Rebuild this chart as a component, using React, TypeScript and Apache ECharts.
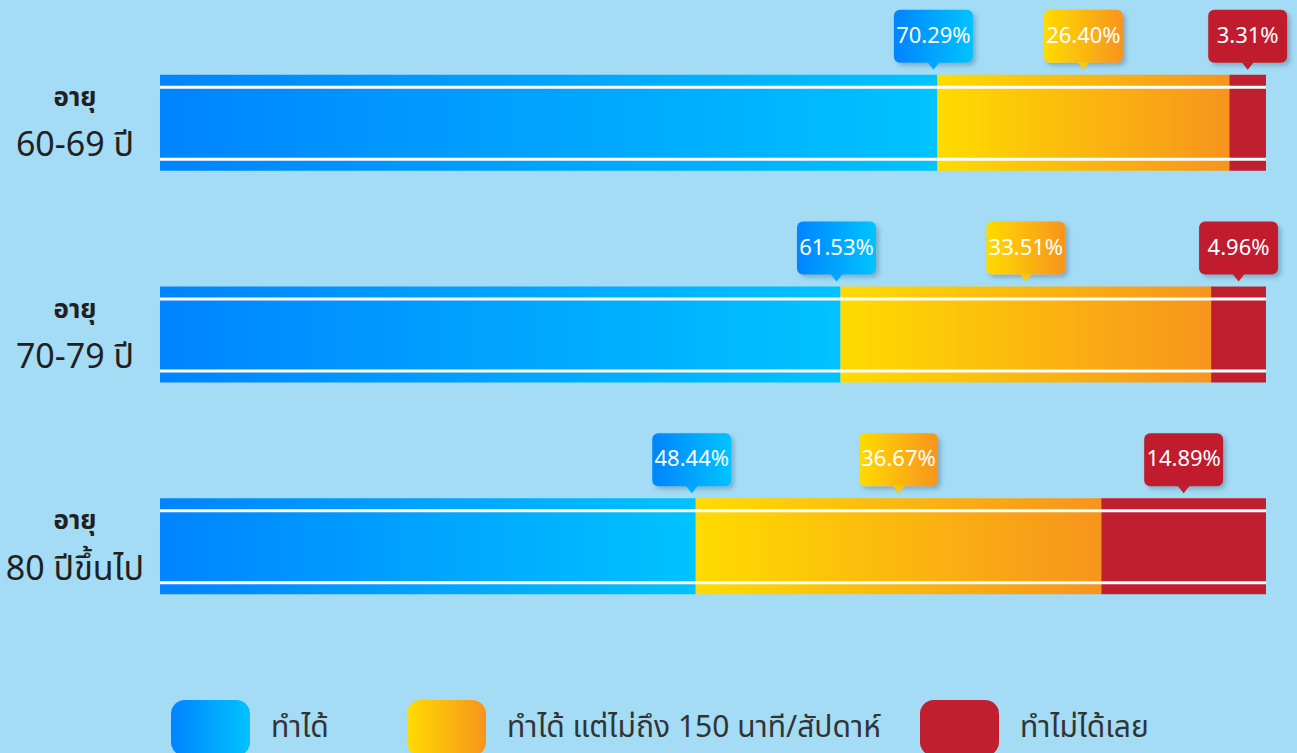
import React, { useEffect, useRef } from "react";
import * as echarts from "echarts";

const categories = ["60-69 ปี", "70-79 ปี", "80 ปีขึ้นไป"];
const seriesNames = ["ทำได้", "ทำได้ แต่ไม่ถึง 150 นาที/สัปดาห์", "ทำไม่ได้เลย"];
const canDo = [70.29, 61.53, 48.44];
const notEnough = [26.4, 33.51, 36.67];
const cannot = [3.31, 4.96, 14.89];

const W = 1297;
const H = 753;
const BG = "#a3dcf4";
const FONT = 'Tahoma, "Noto Sans Thai", "Loma", "Garuda", "Noto Sans", sans-serif';

const gradBlue = () =>
  new echarts.graphic.LinearGradient(0, 0, 1, 0, [
    { offset: 0, color: "#0084ff" },
    { offset: 1, color: "#00c3ff" },
  ]);
const gradOrange = () =>
  new echarts.graphic.LinearGradient(0, 0, 1, 0, [
    { offset: 0, color: "#ffdb00" },
    { offset: 1, color: "#f7941d" },
  ]);
const RED = "#c01f2f";
const pointerColors = ["#00a9ff", "#fcc70c", RED];

export default function App() {
  const ref = useRef<HTMLDivElement>(null);
  useEffect(() => {
    if (!ref.current) return;
    const chart = echarts.init(ref.current, undefined, { renderer: "svg" });
    const all = [canDo, notEnough, cannot];
    const fills = [gradBlue, gradOrange, () => RED];

    const calloutData: number[][] = [];
    categories.forEach((_, i) => {
      let start = 0;
      all.forEach((arr, k) => {
        const end = start + arr[i];
        calloutData.push([i, start, end, arr[i], k]);
        start = end;
      });
    });

    const barHalf = 48;

    const option: any = {
      animation: false,
      backgroundColor: BG,
      grid: { left: 160, right: 31, top: 17, bottom: 101 },
      xAxis: { type: "value", min: 0, max: 100, show: false },
      yAxis: {
        type: "category",
        data: categories,
        inverse: true,
        axisLine: { show: false },
        axisTick: { show: false },
        splitLine: { show: false },
        axisLabel: {
          align: "center",
          margin: 85,
          formatter: (v: string) => `{a|อายุ}\n{b|${v}}`,
          rich: {
            a: { fontSize: 26, fontWeight: "bold", lineHeight: 46, color: "#231f20", fontFamily: FONT },
            b: { fontSize: 34, lineHeight: 50, color: "#231f20", fontFamily: FONT },
          },
        },
      },
      legend: seriesNames.map((n, k) => ({
        data: [n],
        left: [171, 407, 920][k],
        top: 700,
        padding: 0,
        icon: "roundRect",
        itemWidth: 79,
        itemHeight: 56,
        selectedMode: false,
        textStyle: { fontSize: 30, color: "#333", fontFamily: FONT, padding: [0, 0, 0, 16] },
      })),
      series: [
        ...seriesNames.map((n, k) => ({
          name: n,
          type: "bar",
          stack: "total",
          barWidth: 96,
          data: all[k],
          itemStyle: { color: fills[k]() },
          emphasis: { disabled: true },
        })),
        {
          type: "custom",
          name: "lines",
          silent: true,
          data: categories.map((_, i) => [0, i]),
          encode: { x: 0, y: 1 },
          renderItem: (params: any, api: any) => {
            const i = api.value(1);
            const a = api.coord([0, i]);
            const b = api.coord([100, i]);
            const cy = a[1];
            return {
              type: "group",
              children: [
                { type: "rect", shape: { x: a[0], y: cy - 37, width: b[0] - a[0], height: 3 }, style: { fill: "#ffffff" } },
                { type: "rect", shape: { x: a[0], y: cy + 35, width: b[0] - a[0], height: 3 }, style: { fill: "#ffffff" } },
              ],
            };
          },
          z: 5,
        },
        {
          type: "custom",
          name: "callouts",
          silent: true,
          data: calloutData,
          encode: { x: 2, y: 0 },
          renderItem: (params: any, api: any) => {
            const i = api.value(0);
            const start = api.value(1);
            const end = api.value(2);
            const v = api.value(3);
            const k = api.value(4);
            const p0 = api.coord([start, i]);
            const p1 = api.coord([end, i]);
            const barTop = p0[1] - barHalf;
            const px = k === 0 ? p1[0] - 4 : (p0[0] + p1[0]) / 2;
            const bw = 79;
            const bh = 53;
            let bx = px - bw / 2;
            bx = Math.min(bx, api.getWidth() - 7 - bw);
            const by = barTop - 65;
            return {
              type: "group",
              children: [
                {
                  type: "rect",
                  shape: { x: bx, y: by, width: bw, height: bh, r: 6 },
                  style: {
                    fill: fills[k](),
                    shadowBlur: 4,
                    shadowOffsetX: 3,
                    shadowOffsetY: 3,
                    shadowColor: "rgba(60,90,120,0.35)",
                  },
                },
                {
                  type: "polygon",
                  shape: { points: [[px - 6, barTop - 12.5], [px + 6, barTop - 12.5], [px, barTop - 5]] },
                  style: { fill: pointerColors[k] },
                },
                {
                  type: "text",
                  style: {
                    text: v.toFixed(2) + "%",
                    x: bx + bw / 2,
                    y: by + bh / 2,
                    align: "center",
                    verticalAlign: "middle",
                    fill: "#ffffff",
                    fontSize: 22,
                    fontFamily: FONT,
                  },
                },
              ],
            };
          },
          z: 10,
        },
      ],
    };
    chart.setOption(option);
    return () => chart.dispose();
  }, []);
  return (
    <div style={{ position: "fixed", left: 0, top: 0, width: W, height: H, background: BG }}>
      <div ref={ref} style={{ width: W, height: H }} />
    </div>
  );
}
